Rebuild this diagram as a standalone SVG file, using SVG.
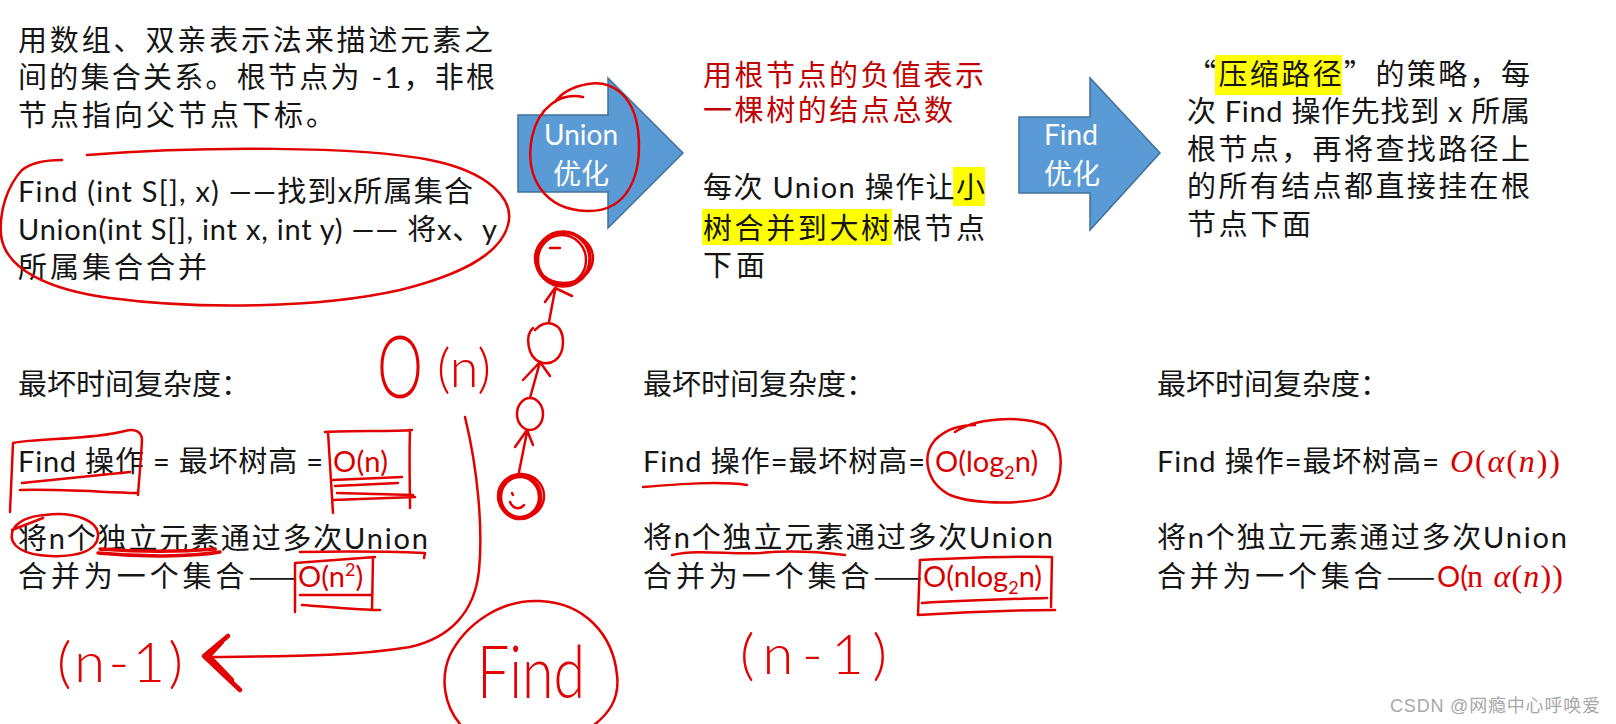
<svg xmlns="http://www.w3.org/2000/svg" width="1616" height="724" viewBox="0 0 1616 724">
<defs>
<style>
.t{font-family:Lato,"Noto Sans CJK SC",sans-serif;font-size:29px;fill:#151515}
.c{font-family:"Noto Sans CJK SC",sans-serif}
.tr{fill:#d80000}
.th{fill:#c00000}
.w{font-family:Lato,"Noto Sans CJK SC",sans-serif;font-size:28px;fill:#ffffff}
.hl{fill:#ffff00}
.arrow{fill:#5b9bd5;stroke:#41719c;stroke-width:1.5}
.ink{fill:none;stroke:#e30000;stroke-width:2.5;stroke-linecap:round;stroke-linejoin:round}
.thick{stroke-width:4.5}
.hand{font-family:Lato,"Noto Sans",sans-serif;font-weight:300;fill:#e30000}
.m{font-family:"Liberation Serif","DejaVu Serif",serif;font-size:32px;fill:#d80000}
.wm{font-family:"Liberation Sans","Noto Sans CJK SC",sans-serif;font-size:18px;fill:#a8a8a8}
</style>
</defs>
<rect width="1616" height="724" fill="#ffffff"/>

<g id="block-left">
<text class="t c" x="18" y="51" textLength="475">用数组、双亲表示法来描述元素之</text>
<text class="t" x="18" y="88" textLength="477">间的集合关系。根节点为 -1，非根</text>
<text class="t c" x="18" y="126" textLength="317">节点指向父节点下标。</text>
<text class="t" x="18" y="202" textLength="455">Find (int S[], x) ——找到x所属集合</text>
<text class="t" x="18" y="240" textLength="479">Union(int S[], int x, int y) —— 将x、y</text>
<text class="t c" x="18" y="278" textLength="189">所属集合合并</text>
</g>

<g id="arrow-union">
<polygon class="arrow" points="518,115 608,115 608,78 683,153 608,228 608,192 518,192"/>
<text class="w" x="581" y="145" text-anchor="middle">Union</text>
<text class="w" x="581" y="184" text-anchor="middle">优化</text>
</g>

<g id="block-middle">
<text class="t c th" x="703" y="86" textLength="281">用根节点的负值表示</text>
<text class="t c th" x="703" y="121" textLength="250">一棵树的结点总数</text>
<rect class="hl" x="953" y="167" width="32" height="39"/>
<rect class="hl" x="702" y="209" width="190" height="36"/>
<text class="t" x="703" y="198" textLength="282">每次 Union 操作让小</text>
<text class="t c" x="703" y="239" textLength="282">树合并到大树根节点</text>
<text class="t c" x="703" y="276" textLength="62">下面</text>
</g>

<g id="arrow-find">
<polygon class="arrow" points="1019,117 1090,117 1090,78 1160,153 1090,230 1090,193 1019,193"/>
<text class="w" x="1071" y="145" text-anchor="middle">Find</text>
<text class="w" x="1072" y="184" text-anchor="middle">优化</text>
</g>

<g id="block-right">
<rect class="hl" x="1215" y="55" width="127" height="40"/>
<text class="t c" x="1187" y="85" textLength="343">“压缩路径”的策略，每</text>
<text class="t" x="1187" y="122" textLength="343">次 Find 操作先找到 x 所属</text>
<text class="t c" x="1187" y="160" textLength="343">根节点，再将查找路径上</text>
<text class="t c" x="1187" y="197" textLength="343">的所有结点都直接挂在根</text>
<text class="t c" x="1187" y="235" textLength="124">节点下面</text>
</g>

<g id="complexity-left">
<text class="t c" x="18" y="395" textLength="232">最坏时间复杂度：</text>
<text class="t" x="18" y="472" textLength="305">Find 操作 = 最坏树高 =</text>
<text class="t tr" x="333" y="472" textLength="55">O(n)</text>
<text class="t" x="18" y="549" textLength="410">将n个独立元素通过多次Union</text>
<text class="t c" x="18" y="587" textLength="279">合并为一个集合——</text>
<text class="t tr" x="298" y="587">O(n<tspan font-size="18" dy="-11">2</tspan><tspan dy="11">)</tspan></text>
</g>

<g id="complexity-middle">
<text class="t c" x="643" y="395" textLength="232">最坏时间复杂度：</text>
<text class="t" x="643" y="472" textLength="282">Find 操作=最坏树高=</text>
<text class="t tr" x="935" y="472">O(log<tspan font-size="18" dy="7">2</tspan><tspan dy="-7">n)</tspan></text>
<text class="t" x="643" y="548" textLength="410">将n个独立元素通过多次Union</text>
<text class="t c" x="643" y="587" textLength="279">合并为一个集合——</text>
<text class="t tr" x="923" y="587">O(nlog<tspan font-size="18" dy="7">2</tspan><tspan dy="-7">n)</tspan></text>
</g>

<g id="complexity-right">
<text class="t c" x="1157" y="395" textLength="232">最坏时间复杂度：</text>
<text class="t" x="1157" y="472" textLength="282">Find 操作=最坏树高=</text>
<text class="m" x="1450" y="472" textLength="110"><tspan font-style="italic">O</tspan>(<tspan font-style="italic">α</tspan>(<tspan font-style="italic">n</tspan>))</text>
<text class="t" x="1157" y="548" textLength="410">将n个独立元素通过多次Union</text>
<text class="t c" x="1157" y="587" textLength="278">合并为一个集合——</text>
<text class="t tr" x="1437" y="587">O(</text>
<text class="m" x="1467" y="587" textLength="96">n <tspan font-style="italic">α</tspan>(<tspan font-style="italic">n</tspan>))</text>
</g>

<g id="annotations">
<path class="ink" d="M 87,155 C 200,146 360,146 430,160 C 490,172 515,200 508,225 C 500,255 460,275 400,290 C 320,308 200,310 110,298 C 50,290 5,270 1,235 C -1,210 8,185 22,170 C 32,162 48,160 62,160"/>
<path class="ink" d="M 583,97 C 560,92 538,108 532,137 C 524,178 545,210 587,211 C 628,212 643,175 638,130 C 633,93 610,80 588,84 C 570,87 560,95 555,102"/>
<path class="ink" d="M 10,512 C 11,490 12,465 13,443 C 40,438 90,440 125,431 C 135,428 142,432 142,440 C 141,460 139,480 138,495 M 20,490 C 60,489 100,492 137,493 M 22,483 C 50,480 90,476 130,472"/>
<path class="ink" d="M 328,432 L 333,513 M 325,432 C 355,430 390,432 412,430 M 410,430 C 409,460 410,490 410,508 M 333,480 L 402,477 M 335,486 L 398,483 M 337,493 L 413,495 M 333,500 L 415,497"/>
<path class="ink" d="M 12,530 L 43,518 M 45,515 C 77,511 99,522 98,536 C 97,552 75,557 50,556 C 24,555 9,546 12,533 C 15,521 30,516 45,515"/>
<path class="ink" style="stroke-width:3.5" d="M 98,553 C 140,557 190,557 220,552 M 100,549 C 140,552 180,552 215,549"/>
<path class="ink" d="M 300,552 C 350,551 400,552 425,553 L 424,558"/>
<path class="ink" d="M 295,563 L 295,612 M 295,563 C 320,561 350,559 375,557 M 373,557 L 372,610 M 300,595 L 372,595 M 302,605 C 330,607 360,610 380,610"/>
<path class="ink" d="M 643,487 C 680,484 720,481 747,485"/>
<path class="ink" d="M 955,432 C 975,418 1020,415 1045,425 C 1065,440 1065,480 1050,495 C 1030,505 975,505 950,495 C 925,482 922,455 935,440 C 945,430 960,425 975,425"/>
<path class="ink" d="M 672,555 C 700,549 730,555 760,553 C 790,550 820,552 845,555"/>
<path class="ink" d="M 920,560 L 918,615 M 920,560 C 960,558 1010,556 1052,557 M 1052,557 L 1051,607 M 922,603 C 970,600 1010,599 1047,598 M 918,615 C 960,612 1010,610 1055,610"/>
<path class="ink" d="M 590,728 C 608,715 620,700 617,675 C 613,635 585,603 540,601 C 500,599 465,625 450,655 C 440,678 444,705 460,724"/>
</g>

<g id="tree-chain">
<ellipse class="ink" style="stroke-width:3.5" cx="563" cy="259" rx="27" ry="27"/>
<ellipse class="ink" cx="562" cy="260" rx="24" ry="25"/>
<ellipse class="ink" cx="564" cy="258" rx="29" ry="25"/>
<path class="ink" d="M 550,248 L 560,248"/>
<path class="ink" d="M 535,330 C 545,318 563,322 563,342 C 563,360 550,366 540,362 C 527,357 525,335 533,328"/>
<ellipse class="ink" cx="530" cy="414" rx="13" ry="16"/>
<ellipse class="ink thick" cx="520" cy="497" rx="20" ry="21"/>
<ellipse class="ink" cx="521" cy="496" rx="23" ry="22"/>
<path class="ink" d="M 512,493 L 513,495 M 510,502 C 513,509 520,510 524,505"/>
</g>

<g id="connectors">
<path class="ink" d="M 545,302 L 555,288 L 572,296 M 555,290 L 549,322"/>
<path class="ink" d="M 523,380 L 540,362 L 550,376 M 540,362 L 530,398"/>
<path class="ink" d="M 515,447 L 527,430 L 533,445 M 527,432 L 518,477"/>
<path class="ink" d="M 465,417 C 478,470 483,530 479,570 C 475,612 450,638 410,647 C 350,657 280,656 208,657"/>
<path class="ink thick" d="M 228,636 L 204,656 L 240,690 M 222,642 L 209,656 L 232,680"/>
</g>

<g id="handwriting">
<text class="hand" x="377" y="398" font-size="86" textLength="46" lengthAdjust="spacingAndGlyphs">O</text>
<text class="hand" x="437" y="387" font-size="54" textLength="54" lengthAdjust="spacingAndGlyphs">(n)</text>
<text class="hand" x="57" y="682" font-size="56" textLength="126">(n-1)</text>
<text class="hand" x="740" y="674" font-size="56" textLength="147">(n-1)</text>
<text class="hand" x="477" y="698" font-size="72" textLength="108" lengthAdjust="spacingAndGlyphs">Find</text>
</g>

<text class="wm" x="1390" y="712" textLength="210">CSDN @网瘾中心呼唤爱</text>
</svg>
